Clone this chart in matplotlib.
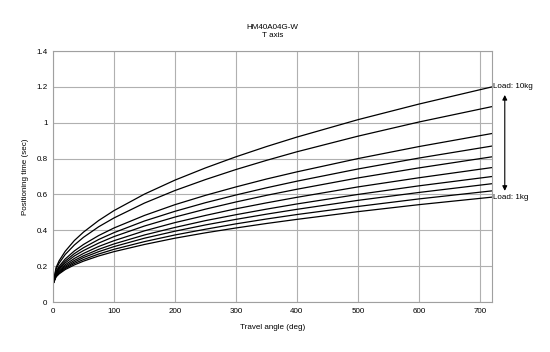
import matplotlib
matplotlib.use("Agg")
import matplotlib.pyplot as plt
from matplotlib.ticker import FuncFormatter

plt.rcParams['font.family'] = ['Liberation Sans', 'DejaVu Sans']

# travel angle (deg)
angle = [0, 5, 10, 20, 35, 50, 75, 100, 150, 200, 250, 300, 350, 400, 500, 600, 720]

# positioning time (sec), load 10kg ... 1kg
t_10kg = [0.10, 0.192, 0.230, 0.283, 0.343, 0.390, 0.455, 0.510, 0.602, 0.680, 0.748, 0.810, 0.867, 0.920, 1.017, 1.104, 1.200]
t_9kg = [0.10, 0.183, 0.217, 0.265, 0.318, 0.361, 0.420, 0.469, 0.552, 0.622, 0.683, 0.739, 0.790, 0.838, 0.925, 1.004, 1.090]
t_8kg = [0.10, 0.170, 0.199, 0.240, 0.285, 0.321, 0.371, 0.413, 0.483, 0.543, 0.595, 0.642, 0.686, 0.726, 0.800, 0.867, 0.940]
t_7kg = [0.10, 0.164, 0.191, 0.228, 0.270, 0.303, 0.349, 0.387, 0.452, 0.506, 0.554, 0.597, 0.637, 0.674, 0.742, 0.803, 0.870]
t_6kg = [0.10, 0.159, 0.184, 0.218, 0.257, 0.287, 0.329, 0.365, 0.424, 0.474, 0.518, 0.558, 0.595, 0.629, 0.692, 0.748, 0.810]
t_5kg = [0.10, 0.154, 0.177, 0.208, 0.243, 0.271, 0.310, 0.342, 0.397, 0.443, 0.483, 0.520, 0.553, 0.584, 0.642, 0.693, 0.750]
t_4kg = [0.10, 0.150, 0.171, 0.200, 0.232, 0.258, 0.294, 0.324, 0.374, 0.416, 0.454, 0.487, 0.518, 0.547, 0.600, 0.648, 0.700]
t_3kg = [0.10, 0.147, 0.166, 0.193, 0.223, 0.248, 0.281, 0.309, 0.356, 0.395, 0.430, 0.461, 0.490, 0.517, 0.567, 0.611, 0.660]
t_2kg = [0.10, 0.143, 0.161, 0.187, 0.215, 0.237, 0.268, 0.294, 0.337, 0.374, 0.406, 0.436, 0.463, 0.488, 0.533, 0.575, 0.620]
t_1kg = [0.10, 0.140, 0.157, 0.181, 0.207, 0.228, 0.257, 0.281, 0.321, 0.356, 0.386, 0.413, 0.438, 0.461, 0.504, 0.543, 0.585]

curves = [t_10kg, t_9kg, t_8kg, t_7kg, t_6kg, t_5kg, t_4kg, t_3kg, t_2kg, t_1kg]

fig = plt.figure(figsize=(5.5, 3.52), dpi=100)
ax = fig.add_axes([0.0964, 0.142, 0.7981, 0.713])

for t in curves:
    ax.plot(angle, t, color='black', lw=0.9)

ax.set_xlim(0, 720)
ax.set_ylim(0, 1.4)
ax.set_xticks(range(0, 701, 100))
ax.set_yticks([0, 0.2, 0.4, 0.6, 0.8, 1.0, 1.2, 1.4])
ax.yaxis.set_major_formatter(FuncFormatter(lambda v, p: '{:g}'.format(round(v, 2))))
ax.grid(True, color='#b0b0b0', lw=0.8)
ax.set_axisbelow(True)
ax.tick_params(length=0, labelsize=5.8, pad=4)
for s in ax.spines.values():
    s.set_color('#a0a0a0')
    s.set_linewidth(0.8)

ax.set_xlabel('Travel angle (deg)', fontsize=5.8, labelpad=7)
ax.set_ylabel('Positioning time (sec)', fontsize=5.8, labelpad=5)
ax.set_title('HM40A04G-W\nT axis', fontsize=5.8, pad=10, linespacing=1.3)

# load labels and arrow
ax.text(722, t_10kg[-1], 'Load: 10kg', fontsize=5.8, va='center', ha='left', clip_on=False)
ax.text(722, t_1kg[-1], 'Load: 1kg', fontsize=5.8, va='center', ha='left', clip_on=False)
ax.annotate('', xy=(741, 1.155), xytext=(741, 0.62), xycoords='data',
            arrowprops=dict(arrowstyle='<|-|>', color='black', lw=0.8,
                            mutation_scale=7, shrinkA=0, shrinkB=0),
            annotation_clip=False)

plt.savefig('out.png', dpi=100)
